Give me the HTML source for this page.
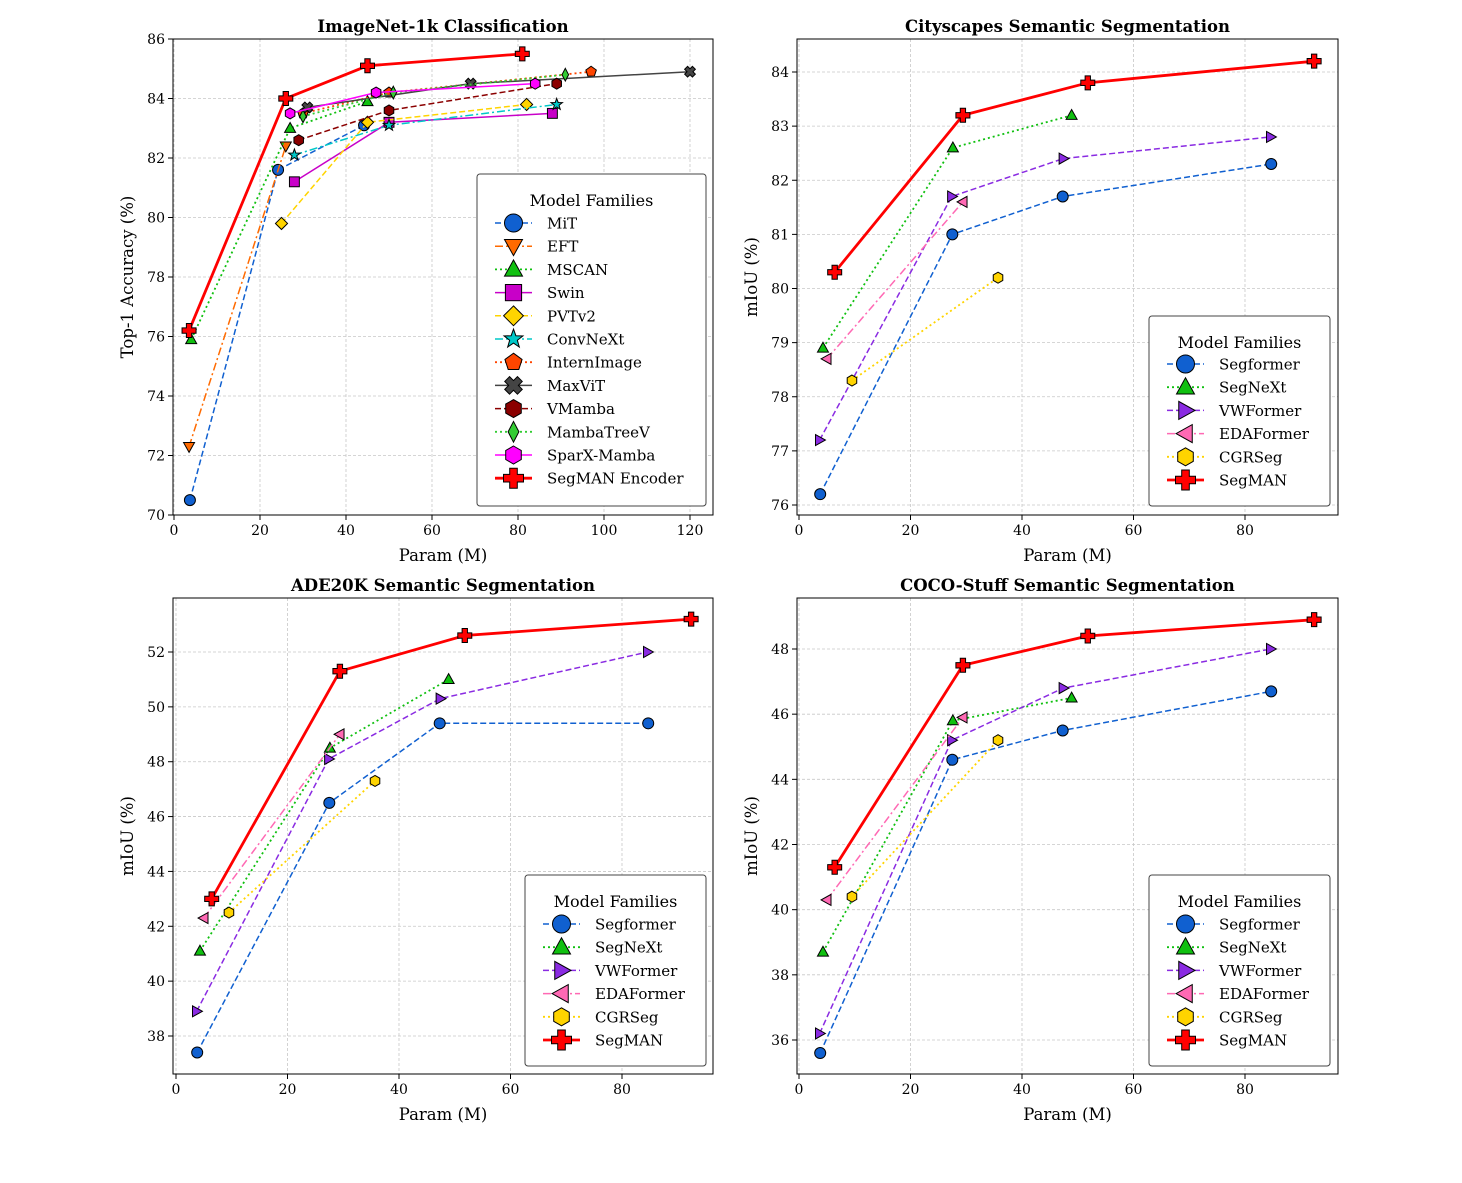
<!DOCTYPE html>
<html><head><meta charset="utf-8"><style>
body{margin:0;background:#fff;}
svg text{font-family:"DejaVu Serif","Liberation Serif",serif;}
</style></head><body>
<svg id="chart" width="1462" height="1178" xmlns="http://www.w3.org/2000/svg"></svg>
<script>
// ---------- DATA ----------
const inTicksX=[0,20,40,60,80,100,120];
const inTicksY=[70,72,74,76,78,80,82,84,86];
const segTicksX=[0,20,40,60,80];
const csTicksY=[76,77,78,79,80,81,82,83,84];
const adeTicksY=[38,40,42,44,46,48,50,52];
const cocoTicksY=[36,38,40,42,44,46,48];

const inNames=["MiT","EFT","MSCAN","Swin","PVTv2","ConvNeXt","InternImage","MaxViT","VMamba","MambaTreeV","SparX-Mamba","SegMAN Encoder"];
const inMitX=[3.7,24.2,44.2], inMitY=[70.5,81.6,83.1];
const inEftX=[3.5,26], inEftY=[72.3,82.4];
const inMscanX=[4,27,45], inMscanY=[75.9,83.0,83.9];
const inSwinX=[28,50,88], inSwinY=[81.2,83.2,83.5];
const inPvtX=[25,45,82], inPvtY=[79.8,83.2,83.8];
const inConvX=[28,50,89], inConvY=[82.1,83.1,83.8];
const inInternX=[30,50,97], inInternY=[83.5,84.2,84.9];
const inMaxvitX=[31,69,120], inMaxvitY=[83.7,84.5,84.9];
const inVmambaX=[29,50,89], inVmambaY=[82.6,83.6,84.5];
const inTreeX=[30,51,91], inTreeY=[83.4,84.2,84.8];
const inSparxX=[27,47,84], inSparxY=[83.5,84.2,84.5];
const inSegmanX=[3.5,26,45,81], inSegmanY=[76.2,84.0,85.1,85.5];

const segNames=["Segformer","SegNeXt","VWFormer","EDAFormer","CGRSeg","SegMAN"];
const sfX=[3.8,27.5,47.3,84.7], snX=[4.3,27.6,48.9], vwX=[3.7,27.4,47.4,84.6], edaX=[5,29.4], cgrX=[9.5,35.7], smX=[6.4,29.4,51.8,92.4];
const csSf=[76.2,81.0,81.7,82.3], csSn=[78.9,82.6,83.2], csVw=[77.2,81.7,82.4,82.8], csEda=[78.7,81.6], csCgr=[78.3,80.2], csSm=[80.3,83.2,83.8,84.2];
const adeSf=[37.4,46.5,49.4,49.4], adeSn=[41.1,48.5,51.0], adeVw=[38.9,48.1,50.3,52.0], adeEda=[42.3,49.0], adeCgr=[42.5,47.3], adeSm=[43.0,51.3,52.6,53.2];
const cocoSf=[35.6,44.6,45.5,46.7], cocoSn=[38.7,45.8,46.5], cocoVw=[36.2,45.2,46.8,48.0], cocoEda=[40.3,45.9], cocoCgr=[40.4,45.2], cocoSm=[41.3,47.5,48.4,48.9];

// ---------- STYLES ----------
const DASH={solid:null,dashed:"6,3",dotted:"2,3",dashdot:"8,3,2,3"};
const inStyles=[
 {c:"#1060d0",ls:"dashed",m:"circle",lw:1.5},
 {c:"#ff6a00",ls:"dashdot",m:"tdown",lw:1.5},
 {c:"#10c010",ls:"dotted",m:"tup",lw:1.8},
 {c:"#c800c8",ls:"solid",m:"square",lw:1.5},
 {c:"#ffd400",ls:"dashed",m:"diamond",lw:1.5},
 {c:"#00c8c8",ls:"dashdot",m:"star",lw:1.5},
 {c:"#ff4500",ls:"dotted",m:"pentagon",lw:1.8},
 {c:"#444444",ls:"solid",m:"x",lw:1.5},
 {c:"#8b0000",ls:"dashed",m:"hexagon",lw:1.5},
 {c:"#33cc33",ls:"dotted",m:"thin",lw:1.8},
 {c:"#ff00ff",ls:"solid",m:"hexagon",lw:1.5},
 {c:"#ff0000",ls:"solid",m:"plus",lw:2.8}];
const segStyles=[
 {c:"#1060d0",ls:"dashed",m:"circle",lw:1.5},
 {c:"#10c010",ls:"dotted",m:"tup",lw:1.8},
 {c:"#8a2be2",ls:"dashed",m:"tright",lw:1.5},
 {c:"#ff69b4",ls:"dashdot",m:"tleft",lw:1.5},
 {c:"#ffd400",ls:"dotted",m:"hexagon",lw:1.8},
 {c:"#ff0000",ls:"solid",m:"plus",lw:2.8}];

const NS="http://www.w3.org/2000/svg";
const svg=document.getElementById("chart");
function el(tag,attrs,parent){const e=document.createElementNS(NS,tag);for(const k in attrs)e.setAttribute(k,attrs[k]);(parent||svg).appendChild(e);return e;}
function poly(pts,cx,cy){return pts.map(p=>(cx+p[0]).toFixed(2)+","+(cy+p[1]).toFixed(2)).join(" ");}
function regular(n,r,rot){const a=[];for(let i=0;i<n;i++){const t=rot+i*2*Math.PI/n;a.push([r*Math.cos(t),r*Math.sin(t)]);}return a;}
function marker(g,type,cx,cy,s,fill){
  const st={fill:fill,stroke:"#000","stroke-width":1};
  let m;
  if(type==="circle"){m=el("circle",Object.assign({cx:cx,cy:cy,r:s},st),g);}
  else if(type==="square"){m=el("rect",Object.assign({x:cx-s*0.9,y:cy-s*0.9,width:s*1.8,height:s*1.8},st),g);}
  else{
    let pts;
    if(type==="tup")pts=[[0,-s*1.05],[s,s*0.75],[-s,s*0.75]];
    else if(type==="tdown")pts=[[0,s*1.05],[s,-s*0.75],[-s,-s*0.75]];
    else if(type==="tright")pts=[[s*1.05,0],[-s*0.75,s],[-s*0.75,-s]];
    else if(type==="tleft")pts=[[-s*1.05,0],[s*0.75,s],[s*0.75,-s]];
    else if(type==="diamond")pts=[[0,-s*1.1],[s*1.1,0],[0,s*1.1],[-s*1.1,0]];
    else if(type==="thin")pts=[[0,-s*1.15],[s*0.6,0],[0,s*1.15],[-s*0.6,0]];
    else if(type==="pentagon")pts=regular(5,s,-Math.PI/2);
    else if(type==="hexagon")pts=regular(6,s,-Math.PI/2);
    else if(type==="star"){pts=[];for(let i=0;i<10;i++){const r=i%2?s*0.45:s*1.1;const t=-Math.PI/2+i*Math.PI/5;pts.push([r*Math.cos(t),r*Math.sin(t)]);}}
    else if(type==="plus"||type==="x"){const w=s*0.38,L=s;let b=[[-w,-L],[w,-L],[w,-w],[L,-w],[L,w],[w,w],[w,L],[-w,L],[-w,w],[-L,w],[-L,-w],[-w,-w]];
      if(type==="x"){const c=Math.SQRT1_2;b=b.map(p=>[(p[0]-p[1])*c,(p[0]+p[1])*c]);}pts=b;}
    m=el("polygon",Object.assign({points:poly(pts,cx,cy)},st),g);
  }
  return m;
}

function panel(cfg){
  const g=el("g",{});
  
  
  const sx=v=>cfg.x0+(v-cfg.xv0)*(cfg.x1-cfg.x0)/(cfg.xv1-cfg.xv0);
  const sy=v=>cfg.y0+(v-cfg.yv0)*(cfg.y1-cfg.y0)/(cfg.yv1-cfg.yv0);
  // grid
  cfg.tx.forEach(t=>{const x=sx(t);
    const gl=el("line",{x1:x,x2:x,y1:cfg.top,y2:cfg.bot,stroke:"#c8c8c8","stroke-width":0.8,"stroke-dasharray":"3,2"},g);
    
    el("line",{x1:x,x2:x,y1:cfg.bot,y2:cfg.bot+5,stroke:"#000","stroke-width":1},g);
    const tl=el("text",{x:x,y:cfg.bot+20,"text-anchor":"middle","font-size":14,fill:"#000"},g);tl.textContent=t;
    });
  cfg.ty.forEach(t=>{const y=sy(t);
    const gl=el("line",{x1:cfg.left,x2:cfg.right,y1:y,y2:y,stroke:"#c8c8c8","stroke-width":0.8,"stroke-dasharray":"3,2"},g);
    
    el("line",{x1:cfg.left-5,x2:cfg.left,y1:y,y2:y,stroke:"#000","stroke-width":1},g);
    const tl=el("text",{x:cfg.left-8,y:y+5,"text-anchor":"end","font-size":14,fill:"#000"},g);tl.textContent=t;
    });
  // series
  cfg.series.forEach((s,i)=>{
    const st=cfg.styles[i];
    const sg=el("g",{},g);
    
    
    const pts=s.x.map((v,k)=>sx(v).toFixed(2)+","+sy(s.y[k]).toFixed(2)).join(" ");
    const a={points:pts,fill:"none",stroke:st.c,"stroke-width":st.lw};
    if(DASH[st.ls])a["stroke-dasharray"]=DASH[st.ls];
    const pl=el("polyline",a,sg);
    
    s.x.forEach((v,k)=>{const m=marker(sg,st.m,sx(v),sy(s.y[k]),st.m==="plus"?7:5.5,st.c);
      });
  });
  // frame
  const fr=el("rect",{x:cfg.left,y:cfg.top,width:cfg.right-cfg.left,height:cfg.bot-cfg.top,fill:"none",stroke:"#000","stroke-width":1},g);
  
  const ti=el("text",{x:(cfg.left+cfg.right)/2,y:cfg.top-7,"text-anchor":"middle","font-size":16.5,"font-weight":"bold"},g);ti.textContent=cfg.title;
  
  const xl=el("text",{x:(cfg.left+cfg.right)/2,y:cfg.bot+46,"text-anchor":"middle","font-size":16.5},g);xl.textContent="Param (M)";
  
  const yx=cfg.left-cfg.ylOff, yy=(cfg.top+cfg.bot)/2;
  const yl=el("text",{x:yx,y:yy,"text-anchor":"middle","font-size":16.5,transform:"rotate(-90 "+yx+" "+yy+")"},g);yl.textContent=cfg.ylabel;
  
  // legend
  const L=cfg.leg;
  const lg=el("g",{},g);
  
  el("rect",{x:L.x,y:L.y,width:L.w,height:L.h,rx:3,fill:"#fff",stroke:"#444","stroke-width":1},lg);
  const lt=el("text",{x:L.x+L.w/2,y:L.y+32,"text-anchor":"middle","font-size":16},lg);lt.textContent="Model Families";
  
  cfg.names.forEach((n,i)=>{const st=cfg.styles[i];const ey=L.y+L.first+i*23.2;
    const eg=el("g",{},lg);
    
    const a={x1:L.x+18,x2:L.x+55,y1:ey,y2:ey,stroke:st.c,"stroke-width":st.lw};if(DASH[st.ls])a["stroke-dasharray"]=DASH[st.ls];
    el("line",a,eg);
    marker(eg,st.m,L.x+36.5,ey,st.m==="plus"?10:9,st.c);
    const t=el("text",{x:L.x+70,y:ey+5.5,"font-size":15},eg);t.textContent=n;});
}

panel({id:"imagenet-panel",title:"ImageNet-1k Classification",ylabel:"Top-1 Accuracy (%)",ylOff:40,
 left:173,right:713,top:39,bot:515,x0:174,x1:690,xv0:0,xv1:120,y0:515,y1:39,yv0:70,yv1:86,
 tx:inTicksX,ty:inTicksY,names:inNames,styles:inStyles,
 series:[{x:inMitX,y:inMitY},{x:inEftX,y:inEftY},{x:inMscanX,y:inMscanY},{x:inSwinX,y:inSwinY},{x:inPvtX,y:inPvtY},{x:inConvX,y:inConvY},{x:inInternX,y:inInternY},{x:inMaxvitX,y:inMaxvitY},{x:inVmambaX,y:inVmambaY},{x:inTreeX,y:inTreeY},{x:inSparxX,y:inSparxY},{x:inSegmanX,y:inSegmanY}],
 leg:{x:477,y:174,w:229,h:332,first:49}});
panel({id:"cityscapes-panel",title:"Cityscapes Semantic Segmentation",ylabel:"mIoU (%)",ylOff:40,
 left:797,right:1338,top:39,bot:515,x0:799,x1:1245,xv0:0,xv1:80,y0:505,y1:72,yv0:76,yv1:84,
 tx:segTicksX,ty:csTicksY,names:segNames,styles:segStyles,
 series:[{x:sfX,y:csSf},{x:snX,y:csSn},{x:vwX,y:csVw},{x:edaX,y:csEda},{x:cgrX,y:csCgr},{x:smX,y:csSm}],
 leg:{x:1149,y:316,w:181,h:190,first:48}});
panel({id:"ade20k-panel",title:"ADE20K Semantic Segmentation",ylabel:"mIoU (%)",ylOff:40,
 left:173,right:713,top:598,bot:1074,x0:176,x1:622,xv0:0,xv1:80,y0:1036,y1:652,yv0:38,yv1:52,
 tx:segTicksX,ty:adeTicksY,names:segNames,styles:segStyles,
 series:[{x:sfX,y:adeSf},{x:snX,y:adeSn},{x:vwX,y:adeVw},{x:edaX,y:adeEda},{x:cgrX,y:adeCgr},{x:smX,y:adeSm}],
 leg:{x:525,y:875,w:181,h:191,first:49}});
panel({id:"coco-stuff-panel",title:"COCO-Stuff Semantic Segmentation",ylabel:"mIoU (%)",ylOff:40,
 left:797,right:1338,top:598,bot:1074,x0:799,x1:1245,xv0:0,xv1:80,y0:1040,y1:649,yv0:36,yv1:48,
 tx:segTicksX,ty:cocoTicksY,names:segNames,styles:segStyles,
 series:[{x:sfX,y:cocoSf},{x:snX,y:cocoSn},{x:vwX,y:cocoVw},{x:edaX,y:cocoEda},{x:cgrX,y:cocoCgr},{x:smX,y:cocoSm}],
 leg:{x:1149,y:875,w:181,h:191,first:49}});
</script>
</body></html>
